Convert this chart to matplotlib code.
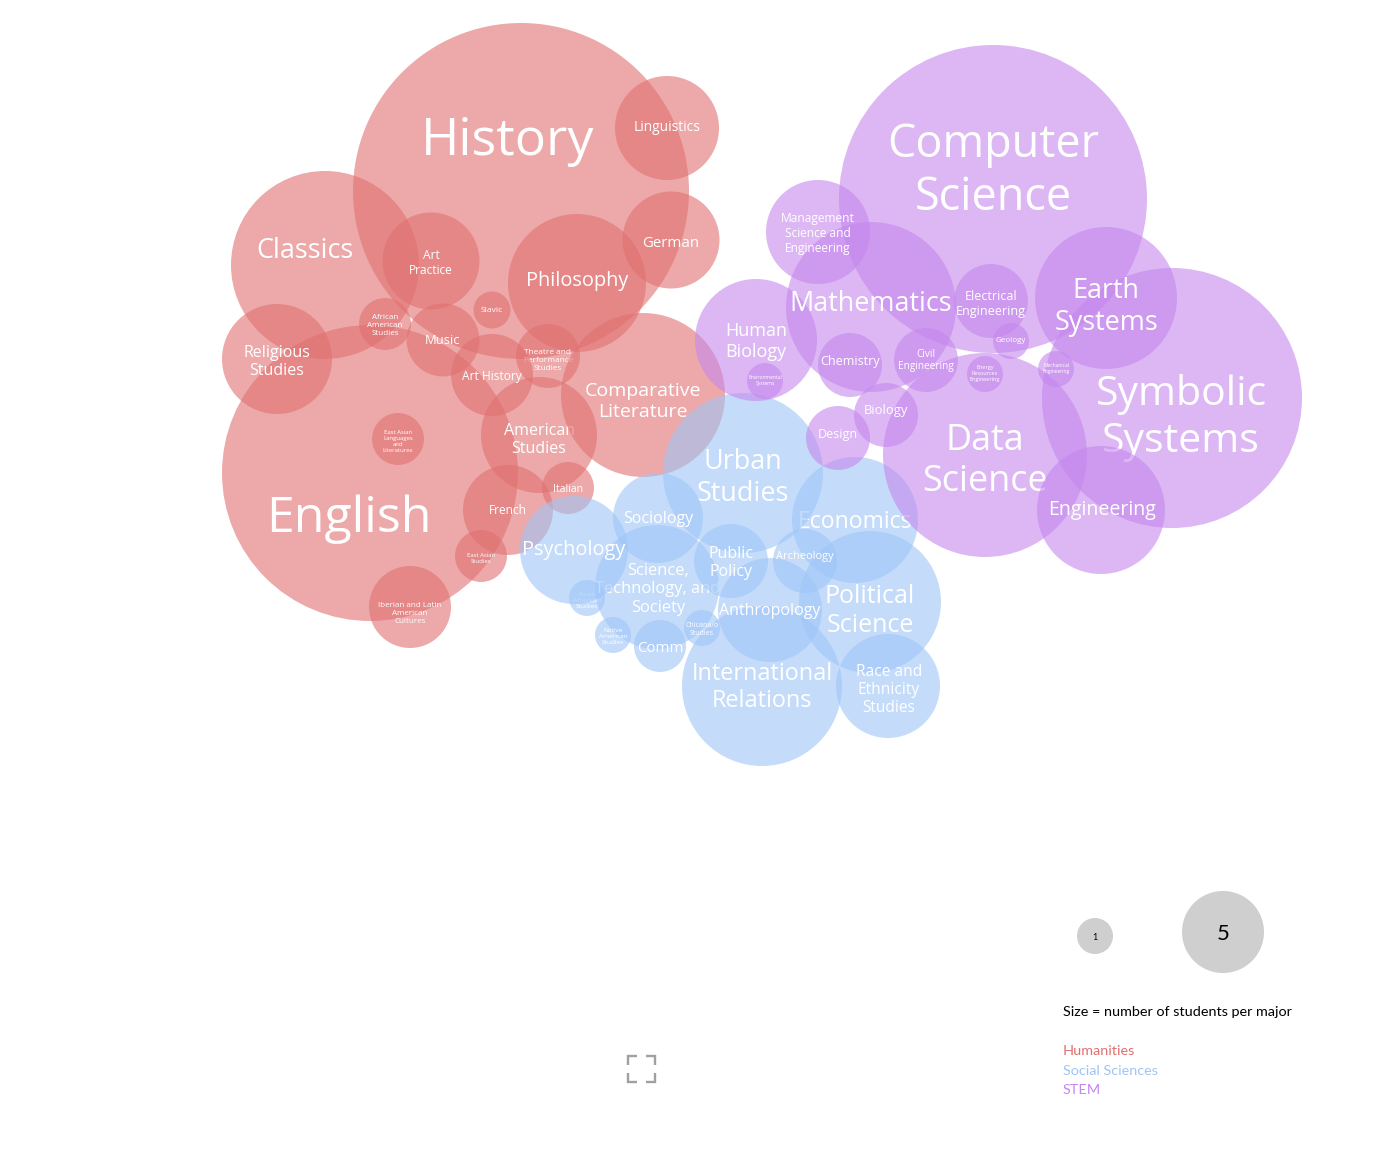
"""
Bubble chart of students per major, grouped by field.
Everything is placed in pixel coordinates read off the picture.
"""

import matplotlib
matplotlib.use("Agg")
import matplotlib.pyplot as plt
from matplotlib.patches import Circle

LABEL_FONT = "Open Sans"
LEGEND_FONT = "Lato"

# draw order matters, later bubbles fade the labels of earlier ones
hum_names = ["English", "History", "Classics", "East Asian\nLanguages\nand\nLiteratures", "Linguistics", "German",
             "Philosophy", "Art\nPractice", "Slavic", "Religious\nStudies", "African\nAmerican\nStudies",
             "Theatre and\nPerformance\nStudies", "American\nStudies", "Comparative\nLiterature", "Music",
             "Art History", "French", "Italian", "East Asian\nStudies", "Iberian and Latin\nAmerican\nCultures"]
hum_x = [370, 521, 325, 398, 667, 671, 577, 431, 492, 277, 385, 548, 539, 643, 443, 492, 508, 568, 481, 410]
hum_y = [473, 191, 265, 439, 128, 240, 283, 261, 310, 359, 324, 356, 435, 395, 340, 375, 510, 488, 556, 607]
hum_r = [148, 168, 94, 26, 52, 48.5, 69, 48.5, 18.5, 55, 26, 32, 58, 82, 36.5, 41, 45, 26, 26, 41]
hum_label_x = [349, 508, 305, 398, 667, 671, 577, 431, 492, 277, 385, 548, 539, 643, 443, 492, 508, 568, 481, 410]
hum_label_y = [516, 138, 249, 441, 127, 242, 280, 262, 310, 361, 325, 360, 439, 400, 340, 376, 510, 489, 558, 613]
hum_font = [50, 52, 27, 6, 13.8, 15, 20, 12, 8.5, 16, 8, 8.3, 16, 19.5, 13, 12, 12, 10.5, 6, 8]

soc_names = ["Asian\nAmerican\nStudies", "Science,\nTechnology, and\nSociety", "Native\nAmerican\nStudies",
             "Economics", "Urban\nStudies", "Political\nScience", "International\nRelations", "Chicana/o\nStudies",
             "Anthropology", "Race and\nEthnicity\nStudies", "Comm", "Sociology", "Psychology",
             "Public\nPolicy", "Archeology"]
soc_x = [587, 657, 613, 855, 743, 870, 762, 702, 770, 888, 660, 658, 574, 731, 805]
soc_y = [598, 587, 635, 520, 473, 602, 686, 628, 610, 686, 646, 518, 550, 561, 561]
soc_r = [18, 62, 18, 63, 80, 71, 80, 18, 52, 52, 26, 45, 54, 37, 32]
soc_label_x = [587, 658, 613, 855, 743, 870, 762, 702, 770, 889, 660, 658, 574, 731, 805]
soc_label_y = [600, 588, 636, 520, 476, 609, 686, 629, 610, 689, 647, 518, 549, 562, 556]
soc_font = [6.5, 16.5, 6.5, 23, 27, 25, 23.5, 7, 16, 15.5, 15, 16, 20, 16, 11]

stem_names = ["Computer\nScience", "Symbolic\nSystems", "Mechanical\nEngineering", "Data\nScience", "Engineering",
              "Human\nBiology", "Mathematics", "Management\nScience and\nEngineering", "Earth\nSystems",
              "Electrical\nEngineering", "Geology", "Chemistry", "Civil\nEngineering", "Environmental\nSystems",
              "Energy\nResources\nEngineering", "Biology", "Design"]
stem_x = [993, 1172, 1056, 985, 1101, 756, 871, 818, 1106, 991, 1011, 850, 926, 765, 985, 886, 838]
stem_y = [199, 398, 369, 455, 510, 340, 307, 232, 298, 301, 341, 365, 360, 381, 374, 415, 438]
stem_r = [154, 130, 18, 102, 64, 61, 85, 52, 71, 37, 18, 32, 32, 18, 18, 32, 32]
stem_label_x = [993, 1181, 1056, 985, 1102, 756, 871, 818, 1106, 991, 1011, 850, 926, 765, 985, 886, 838]
stem_label_y = [168, 415, 368, 459, 509, 340, 302, 233, 305, 303, 340, 361, 360, 380, 373, 410, 434]
stem_font = [45, 41, 5, 36, 19.7, 18, 27, 12, 27, 12.5, 8, 12.5, 10, 5, 5.5, 13, 12.5]

legend_sizes = ["1", "5"]
legend_x = [1095, 1223]
legend_y = [936, 932]
legend_r = [18, 41]
legend_font = [9, 22]

field_names = ["Humanities", "Social Sciences", "STEM"]
field_y = [1051, 1071, 1090]

ALPHA = 0.6
RED = (225 / 255, 113 / 255, 113 / 255)
BLUE = (158 / 255, 197 / 255, 247 / 255)
PURPLE = (197 / 255, 135 / 255, 238 / 255)


def px(size):
    """font sizes above are in pixels, matplotlib wants points at dpi 100"""
    return size * 0.72


def draw_group(ax, names, xs, ys, radii, label_xs, label_ys, fonts, colour, z):
    """Each bubble goes on with its own label so the next one can cover it"""
    for i in range(len(names)):
        ax.add_patch(Circle((xs[i], ys[i]), radii[i], facecolor=colour, edgecolor="none", alpha=ALPHA, zorder=z))
        # the box centre sits a bit above the letters, push it down with the font size
        ax.text(label_xs[i], label_ys[i] + 0.07 * fonts[i], names[i], color="white", fontsize=px(fonts[i]),
                family=LABEL_FONT, ha="center", va="center", multialignment="center", linespacing=1.2,
                zorder=z + 1)
        z += 2
    return z


def draw_legend(ax, z):
    for i in range(len(legend_sizes)):
        ax.add_patch(Circle((legend_x[i], legend_y[i]), legend_r[i], facecolor="#cfcfcf", edgecolor="none", zorder=z))
        ax.text(legend_x[i], legend_y[i] + 2, legend_sizes[i], color="black", fontsize=px(legend_font[i]),
                family=LEGEND_FONT, ha="center", va="center", zorder=z + 1)
    ax.text(1063, 1012, "Size = number of students per major", color="black", fontsize=px(14.4),
            family=LEGEND_FONT, ha="left", va="center", zorder=z + 1)
    for name, y, colour in zip(field_names, field_y, [RED, BLUE, PURPLE]):
        ax.text(1063, y, name, color=colour, fontsize=px(14.4), family=LEGEND_FONT, ha="left", va="center",
                zorder=z + 1)


def draw_fullscreen_icon(ax):
    """The four corner brackets under the chart"""
    left, right, top, bottom = 628, 655, 1056, 1082
    arm = 9
    for cx, cy, dx, dy in [(left, top, 1, 1), (right, top, -1, 1), (left, bottom, 1, -1), (right, bottom, -1, -1)]:
        ax.plot([cx + dx * arm, cx, cx], [cy, cy, cy + dy * arm], color="#a0a0a0", lw=1.7, solid_capstyle="butt",
                solid_joinstyle="miter")


def main():
    fig = plt.figure(figsize=(13.78, 11.6), dpi=100)
    ax = fig.add_axes([0, 0, 1, 1])
    ax.set_xlim(0, 1378)
    ax.set_ylim(1160, 0)
    ax.axis("off")

    z = draw_group(ax, hum_names, hum_x, hum_y, hum_r, hum_label_x, hum_label_y, hum_font, RED, 2)
    z = draw_group(ax, soc_names, soc_x, soc_y, soc_r, soc_label_x, soc_label_y, soc_font, BLUE, z)
    z = draw_group(ax, stem_names, stem_x, stem_y, stem_r, stem_label_x, stem_label_y, stem_font, PURPLE, z)

    draw_legend(ax, z)
    draw_fullscreen_icon(ax)

    fig.savefig("out.png", dpi=100, facecolor="white")


if __name__ == "__main__":
    main()
